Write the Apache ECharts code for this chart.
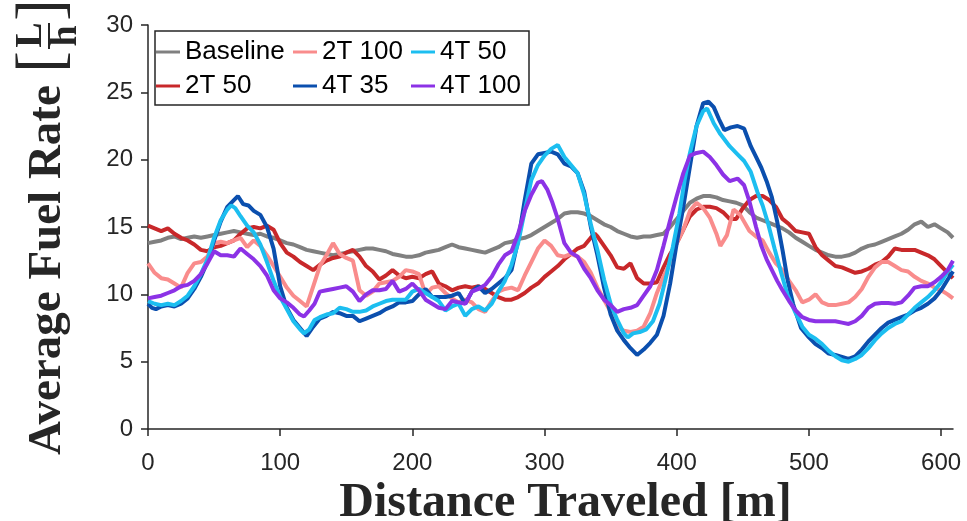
<!DOCTYPE html>
<html>
<head>
<meta charset="utf-8">
<script src="https://cdn.jsdelivr.net/npm/echarts@6/dist/echarts.min.js"></script>
<style>html,body{margin:0;padding:0;background:#fff;}#c{width:967px;height:521px;}</style>
</head>
<body>
<div id="c"></div>
<script>
const xTicks = [0, 100, 200, 300, 400, 500, 600];
const yTicks = [0, 5, 10, 15, 20, 25, 30];
const seriesNames = ['Baseline', '2T 50', '2T 100', '4T 35', '4T 50', '4T 100'];

const baseline = [[0,13.8],[5,13.9],[10,14.0],[15,14.2],[20,14.3],[25,14.1],[30,14.2],[35,14.3],[40,14.2],[45,14.3],[50,14.4],[55,14.5],[60,14.6],[65,14.7],[70,14.6],[75,14.5],[80,14.4],[85,14.5],[90,14.3],[95,14.2],[100,14.0],[105,13.8],[110,13.7],[115,13.5],[120,13.3],[125,13.2],[130,13.1],[135,13.0],[140,12.9],[145,13.0],[150,13.1],[155,13.2],[160,13.3],[165,13.4],[170,13.4],[175,13.3],[180,13.2],[185,13.0],[190,12.9],[195,12.8],[200,12.8],[205,12.9],[210,13.1],[215,13.2],[220,13.3],[225,13.5],[230,13.7],[235,13.5],[240,13.4],[245,13.3],[250,13.2],[255,13.1],[260,13.3],[265,13.5],[270,13.8],[275,13.9],[280,14.1],[285,14.2],[290,14.4],[295,14.7],[300,15.0],[305,15.3],[310,15.6],[315,16.0],[320,16.1],[325,16.1],[330,16.0],[335,15.8],[340,15.5],[345,15.2],[350,15.0],[355,14.7],[360,14.5],[365,14.3],[370,14.2],[375,14.3],[380,14.3],[385,14.4],[390,14.5],[395,15.0],[400,15.6],[405,16.2],[410,16.8],[415,17.1],[420,17.3],[425,17.3],[430,17.2],[435,17.0],[440,16.9],[445,16.8],[450,16.6],[455,16.1],[460,15.7],[465,15.5],[470,15.3],[475,15.1],[480,14.9],[485,14.6],[490,14.2],[495,13.9],[500,13.6],[505,13.3],[510,13.1],[515,12.9],[520,12.8],[525,12.8],[530,12.9],[535,13.1],[540,13.4],[545,13.6],[550,13.7],[555,13.9],[560,14.1],[565,14.3],[570,14.5],[575,14.8],[580,15.2],[585,15.4],[590,15.0],[595,15.2],[600,14.9],[605,14.6],[609,14.2]];

const twoT50 = [[0,15.1],[5,14.9],[10,14.7],[15,14.9],[20,14.5],[25,14.2],[30,14.0],[35,13.7],[40,13.3],[45,13.2],[50,13.5],[55,13.6],[60,13.8],[65,14.0],[70,14.5],[75,14.9],[80,15.0],[85,14.9],[90,15.1],[95,14.8],[100,13.8],[105,13.1],[110,12.8],[115,12.4],[120,12.1],[125,11.8],[130,12.2],[135,12.5],[140,12.7],[145,12.8],[150,13.1],[155,13.3],[160,12.8],[165,12.1],[170,11.7],[175,11.1],[180,11.4],[185,11.8],[190,11.4],[195,11.2],[200,11.3],[205,11.2],[210,11.5],[215,11.7],[220,10.8],[225,10.6],[230,10.3],[235,10.5],[240,10.6],[245,10.5],[250,10.6],[255,10.4],[260,10.1],[265,9.8],[270,9.6],[275,9.6],[280,9.8],[285,10.1],[290,10.5],[295,10.8],[300,11.3],[305,11.7],[310,12.1],[315,12.6],[320,13.0],[325,13.4],[330,13.6],[335,14.2],[338,14.5],[340,14.3],[345,13.6],[350,12.9],[355,12.0],[360,11.9],[365,12.3],[370,11.2],[375,10.8],[380,10.8],[385,10.9],[390,12.0],[395,13.0],[400,13.8],[405,14.8],[410,15.8],[415,16.3],[420,16.5],[425,16.5],[430,16.4],[435,16.1],[440,15.6],[445,15.6],[450,16.4],[455,17.0],[460,17.3],[465,17.3],[470,17.0],[475,16.5],[480,15.6],[485,15.2],[490,14.7],[495,14.6],[500,14.5],[505,13.5],[510,12.9],[515,12.5],[520,12.1],[525,12.0],[530,11.8],[535,11.6],[540,11.7],[545,11.9],[550,12.2],[555,12.4],[560,12.8],[565,13.4],[570,13.3],[575,13.3],[580,13.3],[585,13.1],[590,12.9],[595,12.6],[600,12.1],[605,11.6],[609,11.2]];

const twoT100 = [[0,12.3],[5,11.6],[10,11.2],[15,11.1],[20,10.8],[25,10.5],[30,11.6],[35,12.3],[40,12.4],[45,12.8],[50,13.8],[55,13.9],[60,13.8],[65,14.0],[70,14.2],[75,13.5],[80,14.0],[85,13.6],[90,12.9],[95,12.1],[100,11.3],[105,10.5],[110,9.9],[115,9.5],[120,9.1],[125,10.6],[130,12.1],[135,12.9],[140,13.8],[145,13.0],[150,12.7],[155,12.5],[160,10.3],[165,9.9],[170,10.2],[175,10.8],[180,10.9],[185,11.0],[190,11.3],[195,11.8],[200,11.7],[205,11.5],[210,10.0],[215,10.5],[220,10.6],[225,10.1],[230,9.7],[235,9.4],[240,9.6],[245,9.4],[250,8.9],[255,8.7],[260,9.5],[265,10.2],[270,10.4],[275,10.5],[280,10.3],[285,11.4],[290,12.4],[295,13.4],[300,14.0],[305,13.6],[310,12.9],[315,12.8],[320,13.0],[325,12.8],[330,12.4],[335,11.6],[340,10.5],[345,9.6],[350,8.7],[355,7.6],[360,7.3],[365,7.2],[370,7.3],[375,7.6],[380,8.6],[385,10.1],[390,11.3],[395,12.4],[400,13.8],[405,14.8],[410,16.2],[415,16.8],[420,16.4],[425,15.7],[430,14.5],[433,13.6],[438,14.4],[443,16.3],[448,15.9],[455,14.7],[460,14.3],[465,14.0],[470,13.1],[475,12.3],[480,11.8],[485,11.0],[490,10.3],[495,9.4],[500,9.6],[505,10.0],[510,9.4],[515,9.2],[520,9.2],[525,9.3],[530,9.4],[535,9.8],[540,10.4],[545,11.3],[550,12.0],[555,12.4],[560,12.4],[565,12.1],[570,11.8],[575,11.7],[580,11.3],[585,11.0],[590,10.8],[595,10.5],[600,10.3],[605,10.0],[609,9.7]];

const fourT35 = [[0,9.3],[3,9.0],[6,8.9],[10,9.1],[15,9.2],[20,9.1],[25,9.3],[30,9.7],[35,10.4],[40,11.3],[45,12.4],[50,14.0],[55,15.4],[60,16.5],[65,17.0],[68,17.3],[72,16.7],[76,16.6],[80,16.2],[85,15.9],[90,15.0],[95,13.4],[100,10.6],[105,9.0],[110,8.1],[115,7.5],[120,6.9],[125,7.6],[130,8.2],[135,8.4],[140,8.7],[145,8.6],[150,8.4],[155,8.4],[160,8.0],[165,8.2],[170,8.4],[175,8.6],[180,8.9],[185,9.1],[190,9.4],[195,9.4],[200,9.5],[205,10.0],[210,10.4],[215,9.8],[220,9.8],[225,9.8],[230,9.9],[235,10.1],[240,9.3],[245,10.2],[250,10.6],[255,10.1],[260,10.4],[265,10.8],[270,11.2],[275,11.8],[280,14.0],[285,17.0],[290,19.7],[295,20.4],[300,20.5],[305,20.6],[310,20.4],[315,19.7],[320,19.5],[325,19.0],[330,17.6],[335,15.0],[340,12.9],[345,10.5],[350,8.5],[355,7.3],[360,6.6],[365,6.0],[370,5.5],[375,5.9],[380,6.4],[385,7.0],[390,8.4],[395,10.8],[400,13.8],[405,16.5],[410,19.5],[415,22.5],[420,24.2],[424,24.3],[428,23.9],[432,23.0],[436,22.2],[441,22.4],[446,22.5],[451,22.3],[456,21.0],[460,20.2],[464,19.4],[468,18.4],[472,17.2],[476,15.4],[480,13.3],[484,11.0],[488,9.3],[494,7.5],[500,6.8],[505,6.3],[510,6.0],[515,5.6],[520,5.5],[525,5.35],[530,5.2],[535,5.4],[540,5.9],[545,6.5],[550,7.0],[555,7.5],[560,7.9],[565,8.1],[570,8.3],[575,8.5],[580,8.8],[585,9.0],[590,9.3],[595,9.7],[600,10.3],[605,11.1],[609,11.7]];

const fourT50 = [[0,9.5],[5,9.3],[10,9.2],[15,9.3],[20,9.2],[25,9.5],[30,9.9],[35,10.6],[40,11.5],[45,12.6],[50,14.2],[55,15.5],[60,16.3],[63,16.6],[66,16.4],[70,15.8],[75,15.1],[80,14.6],[85,13.7],[90,12.4],[95,11.0],[100,9.8],[105,8.9],[110,8.0],[115,7.4],[118,7.1],[122,7.4],[126,8.1],[130,8.3],[135,8.5],[140,8.6],[145,9.0],[150,8.9],[155,8.7],[160,8.7],[165,8.8],[170,9.1],[175,9.3],[180,9.5],[185,9.6],[190,9.6],[195,9.6],[200,10.2],[205,10.4],[210,10.1],[215,9.8],[220,9.5],[225,8.8],[230,9.1],[235,9.3],[240,8.4],[245,8.9],[250,9.1],[255,8.8],[260,9.3],[265,10.2],[270,11.0],[275,12.2],[280,13.8],[285,16.2],[290,18.5],[295,19.6],[300,20.3],[305,20.8],[310,21.1],[315,20.2],[320,19.6],[325,19.0],[330,17.4],[335,15.2],[340,13.3],[345,11.1],[350,9.3],[355,8.1],[360,7.1],[363,6.8],[367,7.1],[372,7.2],[377,7.4],[382,8.0],[387,9.3],[392,11.3],[397,13.5],[402,16.0],[406,18.5],[410,20.5],[415,22.5],[420,23.6],[423,23.8],[428,22.7],[433,21.9],[440,21.0],[446,20.4],[451,19.9],[456,19.1],[461,17.6],[465,16.6],[469,15.3],[474,13.4],[479,11.6],[484,9.9],[490,8.6],[495,7.6],[500,7.0],[505,6.7],[510,6.3],[515,5.8],[520,5.4],[525,5.1],[530,5.0],[535,5.2],[540,5.5],[545,6.0],[550,6.6],[555,7.1],[560,7.5],[565,7.8],[570,8.0],[575,8.5],[580,9.0],[585,9.4],[590,9.8],[595,10.3],[600,10.9],[605,11.7],[609,12.2]];

const fourT100 = [[0,9.7],[5,9.8],[10,9.9],[15,10.1],[20,10.3],[25,10.6],[30,10.7],[35,11.0],[40,11.5],[45,12.3],[50,13.2],[55,12.9],[60,12.9],[65,12.8],[70,13.4],[75,13.0],[80,12.6],[85,12.1],[90,11.4],[95,10.3],[100,9.7],[105,9.4],[110,9.0],[115,8.5],[118,8.35],[122,8.8],[126,9.3],[130,10.2],[135,10.3],[140,10.4],[145,10.5],[150,10.6],[155,10.2],[160,9.5],[165,10.0],[170,10.3],[175,10.3],[180,10.4],[185,11.0],[190,10.2],[195,10.4],[200,10.8],[205,10.3],[210,9.6],[215,9.3],[220,9.0],[225,8.9],[230,9.5],[235,9.4],[240,9.3],[245,10.2],[250,10.4],[255,10.7],[260,11.3],[265,12.2],[270,12.9],[275,13.2],[280,14.5],[285,16.2],[290,17.4],[295,18.3],[298,18.4],[302,17.8],[306,16.8],[310,15.6],[315,13.8],[320,13.1],[325,12.8],[330,11.9],[335,11.2],[340,10.3],[345,9.6],[350,9.2],[355,8.7],[360,8.9],[365,9.0],[370,9.2],[375,9.9],[380,10.6],[385,11.8],[390,13.6],[395,15.5],[400,17.3],[405,19.0],[410,20.3],[415,20.5],[420,20.6],[425,20.2],[430,19.6],[435,18.9],[440,18.4],[446,18.6],[451,18.1],[455,16.9],[460,15.0],[464,13.6],[468,12.6],[472,11.8],[476,11.0],[480,10.3],[485,9.5],[490,8.8],[495,8.3],[500,8.1],[505,8.0],[510,8.0],[515,8.0],[520,8.0],[525,7.9],[530,7.8],[535,8.0],[540,8.4],[545,9.0],[550,9.3],[555,9.35],[560,9.35],[565,9.3],[570,9.4],[575,9.9],[580,10.5],[585,10.6],[590,10.6],[595,10.9],[600,11.3],[605,11.8],[609,12.5]];

const seriesData = [baseline, twoT50, twoT100, fourT35, fourT50, fourT100];
const colors = ['#808080', '#c8282a', '#f98c8c', '#0b4fae', '#1cbef0', '#8c32e6'];

const axisColor = '#262626';
const chart = echarts.init(document.getElementById('c'), null, {renderer: 'canvas'});

function legendCol(left, names) {
  return {
    data: names, orient: 'vertical', left: left, top: 38,
    icon: 'rect', itemWidth: 24, itemHeight: 3, itemGap: 6,
    textStyle: {fontFamily: 'Liberation Sans', fontSize: 26, color: '#000', lineHeight: 28},
    padding: 0, selectedMode: false, z: 6
  };
}

const option = {
  animation: false,
  backgroundColor: '#fff',
  color: colors,
  grid: {left: 148, right: 14, top: 25, bottom: 92, containLabel: false, outerBoundsMode: 'none'},
  legend: [
    legendCol(156, ['Baseline', '2T 50']),
    legendCol(293, ['2T 100', '4T 35']),
    legendCol(411, ['4T 50', '4T 100'])
  ],
  xAxis: {
    type: 'value', min: 0, max: 609, interval: 100,
    name: 'Distance Traveled [m]', nameLocation: 'middle', nameGap: 41,
    nameTextStyle: {fontFamily: 'Liberation Serif', fontWeight: 'bold', fontSize: 48, color: axisColor, padding: [0, 0, 0, 30]},
    axisLine: {show: true, onZero: false, lineStyle: {color: axisColor, width: 1.5}},
    axisTick: {show: true, inside: false, length: 7, customValues: xTicks, lineStyle: {color: axisColor, width: 1.5}},
    axisLabel: {customValues: xTicks, margin: 22, fontFamily: 'Liberation Sans', fontSize: 24, color: axisColor},
    splitLine: {show: false}
  },
  yAxis: {
    type: 'value', min: 0, max: 30, interval: 5,
    name: 'Average Fuel Rate', nameLocation: 'middle', nameGap: 77,
    nameTextStyle: {fontFamily: 'Liberation Serif', fontWeight: 'bold', fontSize: 47, lineHeight: 46, color: axisColor, padding: [0, 86, 0, 0]},
    axisLine: {show: true, lineStyle: {color: axisColor, width: 1.5}},
    axisTick: {show: true, inside: false, length: 7, customValues: yTicks, lineStyle: {color: axisColor, width: 1.5}},
    axisLabel: {customValues: yTicks, margin: 15, fontFamily: 'Liberation Sans', fontSize: 24, color: axisColor},
    splitLine: {show: false}
  },
  graphic: [
    {type: 'rect', z: 5, shape: {x: 155, y: 31, width: 374, height: 74},
     style: {fill: '#fff', stroke: axisColor, lineWidth: 1.5}},
    {type: 'group', x: 50, y: 36, rotation: Math.PI / 2, children: [
      {type: 'text', x: -26, y: -6, style: {text: '[', font: 'normal 66px "Liberation Serif"', fill: axisColor, align: 'center', verticalAlign: 'middle'}},
      {type: 'text', x: 26, y: -6, style: {text: ']', font: 'normal 66px "Liberation Serif"', fill: axisColor, align: 'center', verticalAlign: 'middle'}},
      {type: 'text', x: 1, y: -19, style: {text: 'L', font: 'bold 38px "Liberation Serif"', fill: axisColor, align: 'center', verticalAlign: 'middle'}},
      {type: 'text', x: 0, y: 16, style: {text: 'h', font: 'bold 38px "Liberation Serif"', fill: axisColor, align: 'center', verticalAlign: 'middle'}},
      {type: 'line', shape: {x1: -13, y1: -1, x2: 13, y2: -1}, style: {stroke: axisColor, lineWidth: 2}}
    ]}
  ],
  series: seriesNames.map((n, i) => ({
    name: n, type: 'line', data: seriesData[i], showSymbol: false, symbol: 'none',
    lineStyle: {width: 4, color: colors[i]}, itemStyle: {color: colors[i]},
    z: 2 + i
  }))
};
chart.setOption(option);
</script>
</body>
</html>
